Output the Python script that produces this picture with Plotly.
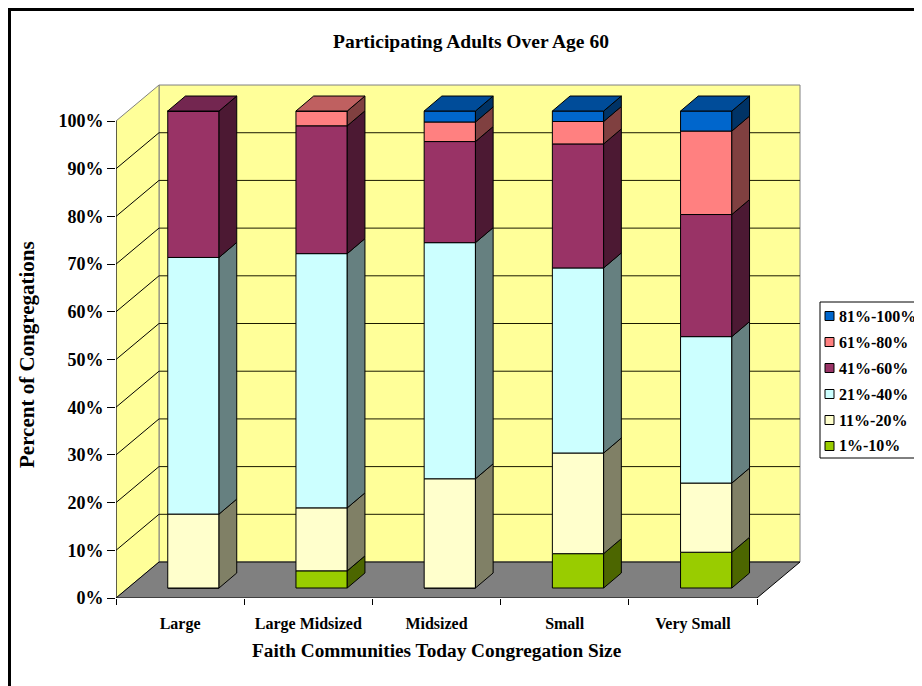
import plotly.graph_objects as go

# ---------------- data ----------------
categories = ["Large", "Large Midsized", "Midsized", "Small", "Very Small"]
series_names = ["1%-10%", "11%-20%", "21%-40%", "41%-60%", "61%-80%", "81%-100%"]
s_1_10 = [0, 3.6, 0, 7.2, 7.5]
s_11_20 = [15.5, 13.2, 22.9, 21.1, 14.5]
s_21_40 = [53.8, 53.3, 49.5, 38.8, 30.7]
s_41_60 = [30.7, 26.8, 21.2, 26.0, 25.6]
s_61_80 = [0, 3.1, 4.1, 4.7, 17.5]
s_81_100 = [0, 0, 2.3, 2.2, 4.2]
y_ticks = [0, 10, 20, 30, 40, 50, 60, 70, 80, 90, 100]

series_values = [s_1_10, s_11_20, s_21_40, s_41_60, s_61_80, s_81_100]

# ---------------- styles ----------------
front_colors = ["#99CC00", "#FFFFCC", "#CCFFFF", "#993366", "#FF8080", "#0066CC"]
side_colors = ["#4C6600", "#808066", "#668080", "#4C1933", "#804040", "#003366"]
top_colors = ["#739900", "#BFBF99", "#99BFBF", "#732650", "#BF6060", "#004C99"]

FONT = "Liberation Serif"
OFF = 8                      # page body margin
W, H = 922 - OFF, 686 - OFF
L, T = 116 - OFF, 80 - OFF
PH = 518
PW = W - L
B = H - T - PH
R = W - L - PW
UX = 128.2            # px per category
YMAX = 108.6
UY = PH / YMAX        # px per percent
XMIN = -0.5
XMAX = XMIN + PW / UX

WDX, WDY = 43 / UX, 36 / UY          # depth of the chart box
BOX_X, BOX_Y = 13.3 / UX, 10 / UY    # bar front offset
BDX, BDY = 17.7 / UX, 15 / UY        # bar depth
BW = 0.4


def px(xp):
    return (xp - OFF - L) / PW


def py(yp):
    return (T + PH - (yp - OFF)) / PH


def path(pts):
    return "M " + " L ".join(f"{a},{b}" for a, b in pts) + " Z"


fig = go.Figure()
shapes = []

x_r = XMIN + len(categories)
# back wall
shapes.append(dict(type="path", xref="x", yref="y", layer="below",
                   path=path([(XMIN + WDX, WDY), (x_r + WDX, WDY), (x_r + WDX, 100 + WDY), (XMIN + WDX, 100 + WDY)]),
                   fillcolor="#FFFF99", line=dict(color="#808080", width=1)))
# left wall
shapes.append(dict(type="path", xref="x", yref="y", layer="below",
                   path=path([(XMIN, 0), (XMIN, 100), (XMIN + WDX, 100 + WDY), (XMIN + WDX, WDY)]),
                   fillcolor="#FFFF99", line=dict(color="#808080", width=1)))
# gridlines
for v in y_ticks[1:-1]:
    shapes.append(dict(type="line", xref="x", yref="y", layer="below",
                       x0=XMIN + WDX, y0=v + WDY, x1=x_r + WDX, y1=v + WDY,
                       line=dict(color="#1a1a00", width=1)))
    shapes.append(dict(type="line", xref="x", yref="y", layer="below",
                       x0=XMIN, y0=v, x1=XMIN + WDX, y1=v + WDY,
                       line=dict(color="#000000", width=1)))
# floor
shapes.append(dict(type="path", xref="x", yref="y", layer="below",
                   path=path([(XMIN, 0), (x_r, 0), (x_r + WDX, WDY), (XMIN + WDX, WDY)]),
                   fillcolor="#808080", line=dict(color="#000000", width=1)))
# y axis line
shapes.append(dict(type="line", xref="x", yref="y", layer="below",
                   x0=XMIN, y0=0, x1=XMIN, y1=100, line=dict(color="#000000", width=1)))
# outer border
shapes.append(dict(type="rect", xref="paper", yref="paper",
                   x0=px(9.5), y0=py(720), x1=px(960), y1=py(9.5),
                   line=dict(color="#000000", width=3), fillcolor="rgba(0,0,0,0)", layer="above"))

# front faces as bars
cum = [0.0] * len(categories)
bases = []
for k, vals in enumerate(series_values):
    bases.append(list(cum))
    fig.add_trace(go.Bar(
        x=[i + BOX_X for i in range(len(categories))],
        y=vals,
        base=[c + BOX_Y for c in cum],
        width=BW,
        name=series_names[k],
        showlegend=False,
        marker=dict(color=front_colors[k], line=dict(color="#000000", width=1)),
    ))
    cum = [c + v for c, v in zip(cum, vals)]

# side and top faces
for i in range(len(categories)):
    x0 = i + BOX_X - BW / 2
    x1 = i + BOX_X + BW / 2
    top_k = max(k for k in range(len(series_values)) if series_values[k][i] > 0)
    for k, vals in enumerate(series_values):
        v = vals[i]
        if v <= 0:
            continue
        b0 = bases[k][i] + BOX_Y
        b1 = b0 + v
        sx = [x1, x1, x1 + BDX, x1 + BDX, x1]
        sy = [b0, b1, b1 + BDY, b0 + BDY, b0]
        fig.add_trace(go.Scatter(x=sx, y=sy, mode="lines", fill="toself",
                                 fillcolor=side_colors[k], line=dict(color="#000000", width=1),
                                 showlegend=False, hoverinfo="skip"))
        if k == top_k:
            tx = [x0, x1, x1 + BDX, x0 + BDX, x0]
            ty = [b1, b1, b1 + BDY, b1 + BDY, b1]
            fig.add_trace(go.Scatter(x=tx, y=ty, mode="lines", fill="toself",
                                     fillcolor=top_colors[k], line=dict(color="#000000", width=1),
                                     showlegend=False, hoverinfo="skip"))

annotations = [
    dict(text="Participating Adults Over Age 60", xref="paper", yref="paper",
         x=px(471), y=py(42), showarrow=False, xanchor="center", yanchor="middle",
         font=dict(family=FONT, size=19.5, color="#000000", weight="bold")),
    dict(text="Faith Communities Today Congregation Size", xref="paper", yref="paper",
         x=px(437), y=py(650), showarrow=False, xanchor="center", yanchor="middle",
         font=dict(family=FONT, size=19.3, color="#000000", weight="bold")),
    dict(text="Percent of Congregations", xref="paper", yref="paper",
         x=px(27), y=py(355), showarrow=False, xanchor="center", yanchor="middle", textangle=-90,
         font=dict(family=FONT, size=21, color="#000000", weight="bold")),
]

# legend (drawn manually so it can run off the right edge like the original)
LEG_X0, LEG_Y0, LEG_Y1 = 820, 302, 458
shapes.append(dict(type="rect", xref="paper", yref="paper",
                   x0=px(LEG_X0), x1=px(960), y0=py(LEG_Y1), y1=py(LEG_Y0),
                   line=dict(color="#000000", width=1), fillcolor="#FFFFFF", layer="above"))
n = len(series_names)
for j, k in enumerate(reversed(range(n))):
    yc = 316 + 26 * j
    shapes.append(dict(type="rect", xref="paper", yref="paper",
                       x0=px(825), x1=px(834), y0=py(yc + 4.5), y1=py(yc - 4.5),
                       line=dict(color="#000000", width=1), fillcolor=front_colors[k], layer="above"))
    annotations.append(dict(text=series_names[k], xref="paper", yref="paper",
                            x=px(837), y=py(yc), showarrow=False, xanchor="left", yanchor="middle",
                            font=dict(family=FONT, size=16, color="#000000", weight="bold")))

fig.update_layout(
    width=W, height=H,
    margin=dict(l=L, r=R, t=T, b=B, pad=0, autoexpand=False),
    paper_bgcolor="#FFFFFF", plot_bgcolor="rgba(0,0,0,0)",
    barmode="overlay",
    shapes=shapes,
    annotations=annotations,
    showlegend=False,
    xaxis=dict(range=[XMIN, XMAX], showgrid=False, zeroline=False, showline=False,
               tickmode="array", tickvals=list(range(len(categories))), ticktext=categories,
               ticks="outside", ticklen=11, tickcolor="rgba(0,0,0,0)",
               tickfont=dict(family=FONT, size=16, color="#000000", weight="bold"),
               minor=dict(tickmode="array", tickvals=[XMIN + j for j in range(len(categories) + 1)],
                          ticks="outside", ticklen=6, tickcolor="#000000", showgrid=False),
               fixedrange=True),
    yaxis=dict(range=[0, YMAX], showgrid=False, zeroline=False, showline=False,
               tickmode="array", tickvals=y_ticks, ticktext=[f"{v}%" for v in y_ticks],
               ticks="outside", ticklen=8, tickcolor="#000000",
               tickfont=dict(family=FONT, size=18, color="#000000", weight="bold"),
               fixedrange=True),
)

fig.write_html("out.html")
